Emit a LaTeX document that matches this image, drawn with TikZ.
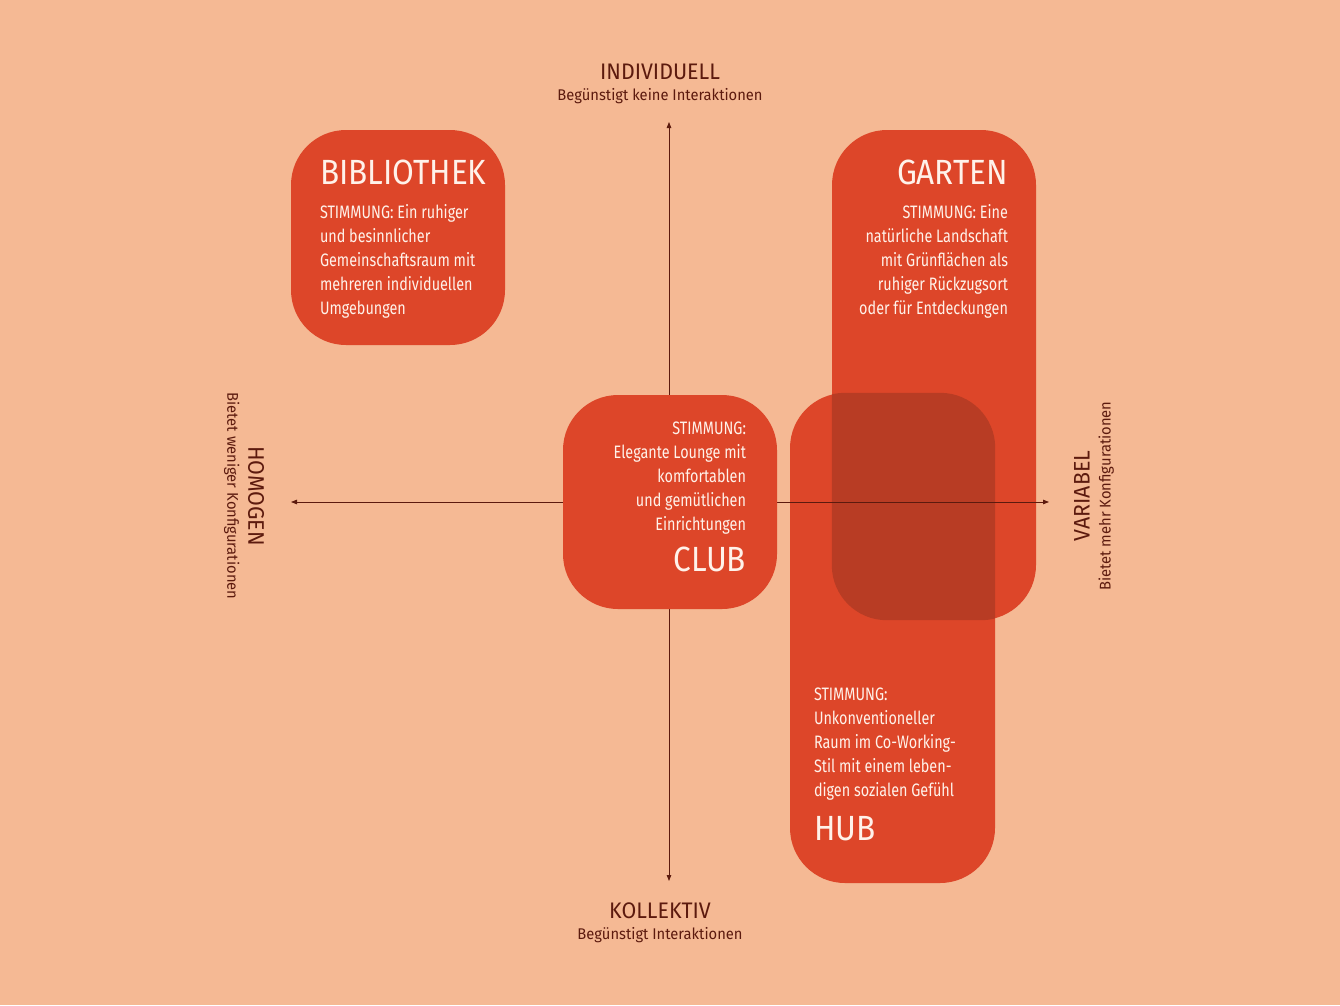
\documentclass[tikz,border=0pt]{standalone}
\usepackage{fontspec}
\setmainfont{Fira Sans}[FakeStretch=0.8]
\newfontfamily\headfont{Fira Sans}[FakeStretch=0.9]
\newfontfamily\axfont{Fira Sans}[FakeStretch=0.95]
\usetikzlibrary{arrows.meta,positioning}
\definecolor{peach}{HTML}{F5B994}
\definecolor{brick}{HTML}{DD4629}
\definecolor{brickdark}{HTML}{B83C24}
\definecolor{ink}{HTML}{5C1A0E}
\definecolor{paper}{HTML}{FFF2EA}
\newcommand{\zonehead}[1]{{\headfont\fontsize{35}{35}\selectfont #1}}
\newcommand{\axhead}[1]{{\fontsize{22.5}{21}\selectfont #1}}

\begin{document}
\begin{tikzpicture}[x=1pt, y=-1pt,
    zone/.style={fill=brick, rounded corners=55pt, inner sep=0pt},
    copy/.style={text=paper, inner sep=0pt, font=\fontsize{18}{24}\selectfont},
    axis/.style={{Triangle[length=6pt,width=4.5pt]}-{Triangle[length=6pt,width=4.5pt]},
                 line width=0.8pt, ink},
    axlbl/.style={text=ink, inner sep=0pt, align=center,
                  font=\axfont\fontsize{15.5}{21}\selectfont}
  ]
  \path[use as bounding box, fill=peach] (0,0) rectangle (1340,1005);
  % --- zones behind the axes ---
  \node[zone, minimum width=214pt, minimum height=215pt] (bib) at (398,237.5) {};
  \node[zone, minimum width=204pt, minimum height=490pt] (gar) at (934,375) {};
  \node[zone, minimum width=205pt, minimum height=490pt] (hub) at (892.5,638) {};
  \begin{scope}
    \clip[rounded corners=55pt] (gar.north west) rectangle (gar.south east);
    \fill[brickdark, rounded corners=55pt] (hub.north west) rectangle (hub.south east);
  \end{scope}
  % --- axes ---
  \coordinate (ytop) at (669,122);
  \coordinate (ybot) at (669,881);
  \coordinate (xleft) at (291,502);
  \coordinate (xright) at (1049,502);
  \draw[axis] (ybot) -- (ytop);
  \draw[axis] (xleft) -- (xright);
  \node[zone, minimum width=214pt, minimum height=214pt] (club) at (670,502) {};
  % --- axis labels ---
  \node[axlbl, anchor=north] (indiv) at (660,64)
    {\axhead{INDIVIDUELL}\\ Begünstigt keine Interaktionen};
  \node[axlbl, anchor=north] (koll) at (660,903)
    {\axhead{KOLLEKTIV}\\ Begünstigt Interaktionen};
  \node[axlbl, rotate=-90] (homo) at (244,496)
    {\axhead{HOMOGEN}\\ Bietet weniger Konfigurationen};
  \node[axlbl, rotate=90] (vari) at (1094,496)
    {\axhead{VARIABEL}\\ Bietet mehr Konfigurationen};
  % --- zone texts ---
  \node[copy, align=left, below right=30pt and 29pt of bib.north west] (bibtext)
    {\zonehead{BIBLIOTHEK}\\[10pt]
     STIMMUNG: Ein ruhiger\\ und besinnlicher\\ Gemeinschaftsraum mit\\
     mehreren individuellen\\ Umgebungen};
  \node[copy, align=right, below left=30pt and 28pt of gar.north east] (gartext)
    {\zonehead{GARTEN}\\[10pt]
     STIMMUNG: Eine\\ natürliche Landschaft\\ mit Grünflächen als\\
     ruhiger Rückzugsort\\ oder für Entdeckungen};
  \node[copy, align=right, above left=37pt and 31pt of club.south east] (clubtext)
    {STIMMUNG:\\ Elegante Lounge mit\\ komfortablen\\ und gemütlichen\\
     Einrichtungen\\[12pt] \zonehead{CLUB}};
  \node[copy, align=left, above right=42pt and 24pt of hub.south west] (hubtext)
    {STIMMUNG:\\ Unkonventioneller\\ Raum im Co-Working-\\ Stil mit einem leben-\\
     digen sozialen Gefühl\\[15pt] \zonehead{HUB}};
\end{tikzpicture}
\end{document}
